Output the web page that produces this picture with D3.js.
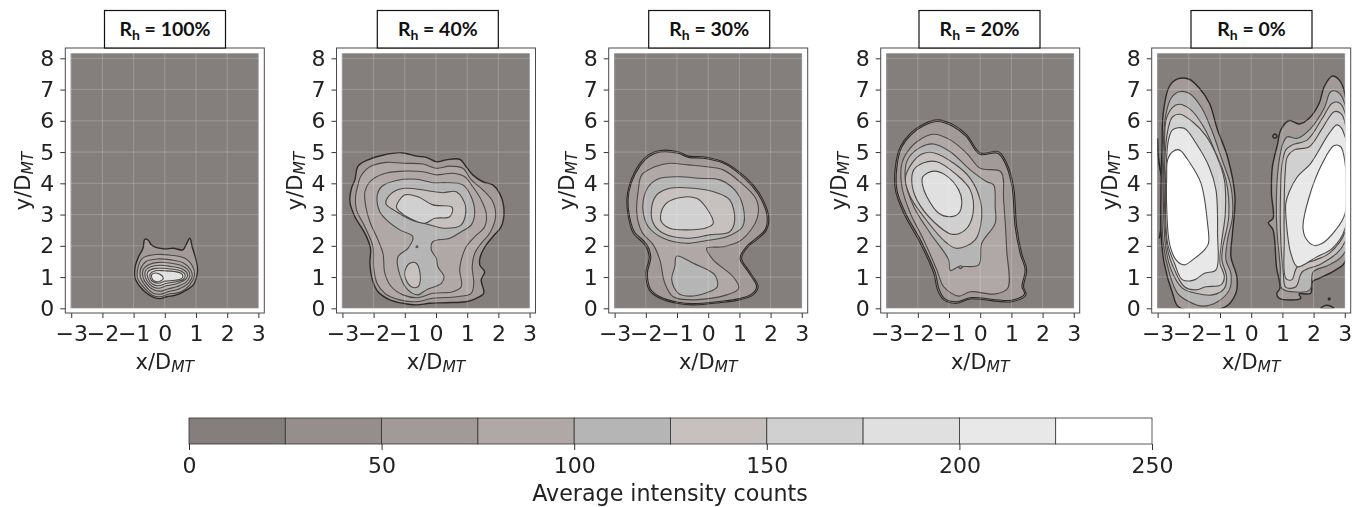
<!DOCTYPE html>
<html><head><meta charset="utf-8">
<script src="https://cdnjs.cloudflare.com/ajax/libs/d3/7.8.5/d3.min.js"></script>
<style>html,body{margin:0;padding:0;background:#fff}svg{display:block;filter:blur(0.35px)}</style>
</head><body><svg id="c" width="1357" height="507"></svg>
<script>
const humidity = ["100%","40%","30%","20%","0%"];
const xTicks = [-3,-2,-1,0,1,2,3];
const yTicks = [0,1,2,3,4,5,6,7,8];
const barTicks = [0,50,100,150,200,250];
const barEdges = [0,25,50,75,100,125,150,175,200,225,250];
const barColors = ["#847f7d","#958e8c","#a19a98","#afa8a6","#b5b5b5","#c6c0be","#d0d0d0","#e0e0e0","#e8e8e8","#ffffff"];

// each contour: [band index, closed outline in x/D, y/D units]
const rh100 = [
[2,[[-0.64,2.21],[-0.52,2.17],[-0.45,2.05],[-0.26,1.94],[0.01,1.90],[0.28,1.92],[0.58,1.87],[0.68,2.03],[0.80,2.24],[0.89,1.92],[0.99,1.60],[1.05,1.23],[1.02,1.01],[0.92,0.75],[0.70,0.59],[0.38,0.43],[0.06,0.37],[-0.15,0.31],[-0.36,0.35],[-0.58,0.48],[-0.79,0.69],[-0.95,0.96],[-0.95,1.33],[-0.84,1.65],[-0.70,1.92]]],
[3,[[-0.86,1.30],[-0.72,1.6],[-0.3,1.72],[0.2,1.7],[0.65,1.6],[0.9,1.32],[0.95,1.05],[0.8,0.75],[0.5,0.52],[0.1,0.45],[-0.15,0.37],[-0.4,0.42],[-0.68,0.68],[-0.87,0.95]]],
[3,[[-0.78,1.25],[-0.6,1.5],[-0.25,1.58],[0.2,1.55],[0.6,1.45],[0.82,1.25],[0.88,1.02],[0.75,0.8],[0.45,0.62],[0.1,0.53],[-0.15,0.45],[-0.4,0.5],[-0.62,0.72],[-0.78,0.98]]],
[4,[[-0.7,1.22],[-0.5,1.4],[-0.2,1.47],[0.2,1.44],[0.55,1.36],[0.76,1.2],[0.8,1.02],[0.68,0.84],[0.4,0.7],[0.1,0.62],[-0.15,0.55],[-0.38,0.6],[-0.58,0.78],[-0.7,1.0]]],
[5,[[-0.62,1.2],[-0.45,1.33],[-0.15,1.38],[0.2,1.34],[0.5,1.28],[0.7,1.15],[0.72,1.0],[0.6,0.88],[0.35,0.78],[0.05,0.72],[-0.2,0.64],[-0.4,0.7],[-0.55,0.85],[-0.63,1.02]]],
[6,[[-0.55,1.15],[-0.35,1.27],[-0.1,1.28],[0.25,1.25],[0.5,1.2],[0.65,1.08],[0.6,0.93],[0.35,0.85],[0.05,0.8],[-0.2,0.72],[-0.4,0.78],[-0.52,0.92]]],
[7,[[-0.47,1.1],[-0.3,1.2],[0.0,1.2],[0.3,1.18],[0.52,1.12],[0.58,1.02],[0.5,0.93],[0.25,0.89],[0.0,0.87],[-0.2,0.8],[-0.38,0.85],[-0.47,0.97]]],
[8,[[-0.42,1.08],[-0.28,1.13],[-0.1,1.05],[-0.05,0.95],[-0.2,0.85],[-0.35,0.88],[-0.42,0.98]]]
];
const rh40 = [
[2,[[-2.50,4.55],[-2.18,4.75],[-1.75,4.89],[-1.11,4.98],[-0.63,4.87],[-0.31,4.83],[0.01,4.69],[0.33,4.75],[0.76,4.77],[0.97,4.53],[1.18,4.27],[1.50,4.05],[1.82,3.95],[2.04,3.68],[2.18,3.15],[2.09,2.61],[1.82,2.29],[1.61,2.03],[1.42,1.65],[1.40,1.39],[1.56,1.17],[1.45,0.91],[1.53,0.48],[1.29,0.32],[0.97,0.21],[0.33,0.18],[-0.20,0.16],[-0.63,0.11],[-1.06,0.16],[-1.48,0.27],[-1.86,0.53],[-2.04,0.91],[-2.12,1.44],[-2.10,1.92],[-2.28,2.40],[-2.60,2.93],[-2.76,3.41],[-2.71,3.84],[-2.60,4.11]]],
[3,[[-2.42,4.21],[-2.12,4.53],[-1.59,4.67],[-1.06,4.64],[-0.42,4.62],[0.01,4.48],[0.44,4.55],[0.86,4.48],[1.13,4.11],[1.50,3.79],[1.82,3.41],[1.91,2.93],[1.72,2.40],[1.45,2.08],[1.24,1.76],[1.16,1.33],[1.21,0.80],[1.13,0.48],[0.65,0.37],[-0.10,0.32],[-0.63,0.21],[-1.16,0.27],[-1.64,0.48],[-1.89,0.80],[-2.00,1.33],[-2.02,1.97],[-2.28,2.61],[-2.55,3.15],[-2.58,3.57],[-2.50,3.95]]],
[3,[[-2.28,3.73],[-2.12,4.05],[-1.70,4.30],[-1.06,4.39],[-0.42,4.37],[0.01,4.27],[0.54,4.32],[0.92,4.21],[1.18,3.89],[1.45,3.47],[1.61,3.04],[1.56,2.61],[1.24,2.29],[0.97,1.97],[0.81,1.55],[0.76,1.23],[0.81,0.69],[0.54,0.53],[-0.10,0.48],[-0.58,0.34],[-1.06,0.43],[-1.43,0.69],[-1.64,1.12],[-1.70,1.76],[-1.86,2.19],[-2.12,2.77],[-2.25,3.25]]],
[4,[[-1.89,3.57],[-1.75,3.89],[-1.27,4.09],[-0.63,4.13],[-0.10,4.02],[0.33,4.02],[0.86,3.95],[1.13,3.57],[1.24,3.04],[1.13,2.67],[0.81,2.45],[0.44,2.24],[-0.10,2.13],[-0.15,1.87],[0.01,1.60],[0.06,1.33],[0.26,1.01],[0.17,0.80],[-0.31,0.59],[-0.58,0.43],[-0.90,0.59],[-1.16,1.07],[-1.22,1.65],[-0.90,1.92],[-0.74,2.29],[-1.16,2.51],[-1.59,2.83],[-1.80,3.09]]],
[5,[[-1.61,3.36],[-1.43,3.68],[-1.00,3.84],[-0.31,3.77],[0.22,3.70],[0.65,3.73],[0.95,3.25],[0.81,2.67],[0.33,2.56],[-0.31,2.70],[-0.79,2.83],[-1.27,3.09]]],
[5,[[-1.00,1.17],[-0.84,1.44],[-0.63,1.44],[-0.50,1.01],[-0.58,0.69],[-0.79,0.69],[-0.98,0.96]]],
[6,[[-1.27,3.25],[-1.00,3.63],[-0.58,3.57],[-0.10,3.31],[0.52,3.23],[0.44,2.93],[-0.04,2.88],[-0.36,2.72],[-0.84,2.88],[-1.16,3.09]]],
[3,[[-0.64,1.97],[-0.61,2.0],[-0.58,1.97],[-0.61,1.94]]]
];
const rh30 = [
[1,[[-2.19,4.64],[-1.92,4.91],[-1.55,5.05],[-0.96,5.01],[-0.64,4.87],[-0.16,4.85],[0.48,4.69],[0.91,4.43],[1.44,3.95],[1.76,3.47],[1.94,2.93],[1.87,2.51],[1.55,2.19],[1.28,1.97],[1.07,1.60],[1.33,1.17],[1.60,0.69],[1.44,0.43],[1.01,0.27],[0.37,0.18],[-0.48,0.11],[-1.01,0.16],[-1.55,0.32],[-1.89,0.59],[-2.00,1.12],[-1.89,1.65],[-2.03,2.03],[-2.40,2.40],[-2.56,2.93],[-2.61,3.47],[-2.51,4.00]]],
[2,[[-2.16,4.60],[-1.90,4.86],[-1.54,5.00],[-0.96,4.96],[-0.63,4.83],[-0.16,4.80],[0.47,4.65],[0.89,4.39],[1.41,3.91],[1.72,3.45],[1.89,2.93],[1.83,2.53],[1.52,2.23],[1.24,1.99],[1.02,1.60],[1.28,1.17],[1.55,0.70],[1.40,0.46],[1.00,0.31],[0.37,0.22],[-0.48,0.15],[-1.00,0.20],[-1.53,0.36],[-1.85,0.62],[-1.95,1.12],[-1.84,1.65],[-1.99,2.07],[-2.36,2.44],[-2.52,2.93],[-2.57,3.47],[-2.47,4.00]]],
[3,[[-2.24,3.79],[-2.13,4.27],[-1.71,4.53],[-1.23,4.64],[-0.64,4.59],[-0.05,4.53],[0.48,4.43],[1.01,4.05],[1.55,3.47],[1.57,2.88],[1.07,2.19],[0.48,1.97],[-0.05,1.92],[0.16,1.55],[0.80,1.01],[0.98,0.64],[0.59,0.43],[-0.48,0.27],[-1.12,0.37],[-1.39,0.80],[-1.55,1.55],[-1.76,2.03],[-2.13,2.45],[-2.29,3.04]]],
[4,[[-2.08,3.47],[-1.92,3.89],[-1.55,4.16],[-0.91,4.21],[-0.27,4.16],[0.37,4.11],[0.85,3.79],[1.12,3.25],[1.10,2.61],[0.59,2.29],[-0.05,2.17],[-0.69,2.08],[-1.44,2.24],[-1.92,2.61],[-2.08,3.04]]],
[4,[[-1.01,1.67],[-0.48,1.44],[0.21,1.07],[0.29,0.69],[-0.05,0.50],[-0.59,0.39],[-0.96,0.48],[-1.17,0.91],[-1.07,1.33]]],
[5,[[-1.81,3.25],[-1.65,3.63],[-1.23,3.84],[-0.48,3.84],[0.27,3.70],[0.69,3.47],[0.85,2.83],[0.69,2.45],[0.05,2.35],[-0.69,2.24],[-1.44,2.40],[-1.76,2.72]]],
[6,[[-1.53,2.93],[-1.39,3.31],[-1.01,3.52],[-0.37,3.52],[-0.05,3.20],[0.16,2.72],[-0.05,2.58],[-0.69,2.51],[-1.23,2.56],[-1.50,2.77]]]
];
const rh20 = [
[1,[[-2.56,5.17],[-2.24,5.60],[-1.81,5.90],[-1.37,6.03],[-0.85,5.87],[-0.43,5.55],[0.00,4.98],[0.59,5.01],[0.85,4.64],[1.07,3.89],[1.17,2.61],[1.33,1.76],[1.49,1.23],[1.39,0.69],[1.47,0.43],[1.01,0.21],[-0.32,0.30],[-0.75,0.16],[-1.17,0.27],[-1.37,0.59],[-1.49,1.12],[-1.92,2.08],[-2.45,3.04],[-2.72,3.79],[-2.72,4.53]]],
[2,[[-2.52,5.15],[-2.21,5.56],[-1.80,5.85],[-1.37,5.98],[-0.87,5.82],[-0.45,5.50],[-0.02,4.93],[0.56,4.96],[0.81,4.62],[1.02,3.89],[1.12,2.61],[1.28,1.76],[1.44,1.23],[1.34,0.69],[1.42,0.46],[1.00,0.26],[-0.32,0.34],[-0.75,0.21],[-1.14,0.31],[-1.32,0.62],[-1.44,1.14],[-1.87,2.10],[-2.40,3.06],[-2.67,3.79],[-2.67,4.53]]],
[3,[[-2.43,4.85],[-2.03,5.33],[-1.49,5.57],[-0.96,5.39],[-0.43,4.96],[0.00,4.48],[0.66,4.37],[0.75,3.47],[0.85,1.87],[0.88,0.64],[0.48,0.46],[-0.32,0.53],[-0.69,0.39],[-1.17,0.69],[-1.39,1.23],[-1.81,2.19],[-2.24,3.04],[-2.51,3.89],[-2.53,4.53]]],
[4,[[-2.33,4.75],[-1.92,5.15],[-1.49,5.26],[-0.96,5.01],[-0.32,4.43],[0.21,4.05],[0.43,3.95],[0.48,3.25],[0.48,2.72],[0.05,2.08],[-0.05,1.39],[-0.69,1.33],[-0.96,1.21],[-1.01,1.55],[-1.60,2.40],[-2.13,3.25],[-2.40,4.11]]],
[5,[[-2.19,4.64],[-1.87,4.94],[-1.49,4.98],[-0.85,4.64],[-0.32,4.16],[0.00,3.47],[0.05,2.93],[-0.16,2.19],[-0.75,1.92],[-1.12,2.13],[-1.81,2.93],[-2.24,3.57],[-2.40,4.16]]],
[6,[[-2.13,4.43],[-1.81,4.66],[-1.39,4.69],[-0.75,4.27],[-0.32,3.79],[-0.23,3.04],[-0.48,2.51],[-0.91,2.37],[-1.49,2.77],[-2.03,3.47],[-2.19,4.00]]],
[7,[[-1.84,4.21],[-1.49,4.39],[-1.12,4.27],[-0.69,3.79],[-0.59,3.41],[-0.69,3.04],[-1.01,2.93],[-1.33,3.04],[-1.71,3.57],[-1.85,3.95]]],
[2,[[-0.69,1.32],[-0.63,1.36],[-0.57,1.32],[-0.63,1.27]]]
];
const rh0 = [
[0,[[-3.0,5.43],[-2.96,4.65],[-2.84,4.07],[-2.92,4.5],[-2.99,4.95]]],
[0,[[-2.85,2.72],[-2.95,2.24],[-2.87,2.5]]],
[2,[[-2.82,6.24],[-2.63,7.09],[-2.36,7.34],[-1.99,7.33],[-1.66,7.04],[-1.34,6.56],[-1.08,5.71],[-0.76,4.85],[-0.52,3.57],[-0.60,2.40],[-0.65,1.65],[-0.46,1.01],[-0.49,0.48],[-0.86,0.03],[-2.31,0.03],[-2.52,0.48],[-2.79,1.44],[-2.89,2.40],[-2.89,3.89],[-2.86,5.17]]],
[4,[[-2.75,6.13],[-2.57,6.72],[-2.31,6.93],[-1.99,6.88],[-1.61,6.45],[-1.29,5.76],[-0.97,4.85],[-0.65,3.89],[-0.60,2.93],[-0.76,2.19],[-0.81,1.55],[-0.65,1.12],[-0.70,0.59],[-1.08,0.21],[-1.56,0.07],[-1.99,0.21],[-2.36,0.48],[-2.62,1.12],[-2.82,2.08],[-2.86,3.89],[-2.82,5.17]]],
[5,[[-2.73,6.03],[-2.52,6.43],[-2.31,6.53],[-1.93,6.35],[-1.50,5.76],[-1.18,5.07],[-0.81,4.11],[-0.72,2.93],[-0.91,1.97],[-0.94,1.55],[-0.79,1.01],[-0.86,0.64],[-1.24,0.43],[-1.77,0.48],[-2.20,0.64],[-2.52,1.12],[-2.73,1.87],[-2.82,3.89],[-2.78,5.17]]],
[6,[[-2.66,5.76],[-2.52,6.13],[-2.28,6.21],[-1.88,5.97],[-1.45,5.52],[-1.13,4.93],[-0.86,4.11],[-0.83,3.04],[-0.97,1.97],[-1.00,1.44],[-0.86,1.01],[-0.97,0.75],[-1.45,0.69],[-1.77,0.59],[-2.14,0.69],[-2.46,1.23],[-2.68,1.87],[-2.79,3.89],[-2.75,5.07]]],
[8,[[-2.65,5.39],[-2.52,5.71],[-2.15,5.76],[-1.77,5.28],[-1.35,4.53],[-1.13,3.79],[-1.08,2.40],[-1.13,1.23],[-1.50,1.12],[-1.82,0.91],[-2.20,0.91],[-2.46,1.44],[-2.68,2.08],[-2.75,3.89],[-2.71,4.85]]],
[9,[[-2.68,4.75],[-2.52,5.01],[-2.31,5.07],[-1.99,4.69],[-1.61,4.00],[-1.40,2.72],[-1.37,2.08],[-1.50,1.87],[-1.88,1.55],[-2.15,1.39],[-2.41,1.55],[-2.62,2.08],[-2.71,3.25],[-2.71,4.21]]],
[2,[[0.84,5.23],[0.95,5.71],[1.22,6.01],[1.54,5.90],[1.86,6.08],[2.18,6.56],[2.34,7.09],[2.60,7.43],[2.82,7.31],[3.01,6.83],[3.01,1.49],[2.71,1.23],[2.18,0.96],[1.96,0.85],[1.91,0.48],[1.54,0.46],[1.59,0.32],[0.90,0.32],[0.82,0.48],[0.92,0.64],[0.81,1.33],[0.70,2.51],[0.55,2.74],[0.70,2.88],[0.65,3.68],[0.68,4.53]]],
[4,[[1.02,5.28],[1.16,5.49],[1.48,5.44],[1.91,5.76],[2.34,6.40],[2.55,6.93],[2.76,6.93],[3.01,6.51],[3.01,1.81],[2.50,1.39],[1.99,1.17],[1.88,0.59],[1.32,0.53],[0.98,0.64],[0.93,1.33],[0.82,2.61],[0.82,3.89],[0.90,4.75]]],
[5,[[1.11,5.07],[1.32,5.23],[1.80,5.39],[2.28,6.08],[2.60,6.56],[2.82,6.58],[3.01,6.24],[3.01,2.13],[2.28,1.44],[1.64,1.17],[1.43,0.69],[1.11,0.67],[1.03,1.12],[0.94,2.40],[0.94,3.68],[0.98,4.53]]],
[6,[[1.16,4.85],[1.38,5.07],[1.86,5.17],[2.28,5.76],[2.66,6.29],[2.87,6.24],[3.01,5.92],[3.01,2.45],[2.50,1.76],[2.07,1.55],[1.48,1.33],[1.30,0.91],[1.11,0.96],[1.06,2.19],[1.06,3.47],[1.09,4.32]]],
[8,[[1.22,3.73],[1.48,4.21],[1.91,4.64],[2.50,5.60],[2.76,5.87],[3.01,5.49],[3.01,2.56],[2.60,1.92],[2.07,1.63],[1.48,1.33],[1.27,1.76],[1.14,2.61],[1.11,3.36]]],
[9,[[1.66,2.61],[1.86,3.57],[2.28,4.64],[2.66,5.21],[2.87,5.17],[3.01,4.64],[3.01,3.04],[2.71,2.51],[2.28,2.08],[2.02,2.01],[1.75,2.24]]],
[0,[[0.69,5.51],[0.76,5.58],[0.83,5.51],[0.76,5.44]]],
[1,[[2.23,0.0],[2.42,0.1],[2.65,0.0]]],
[1,[[2.47,0.30],[2.5,0.33],[2.53,0.30],[2.5,0.27]]]
];
const panelContours = [rh100,rh40,rh30,rh20,rh0];

const frameLefts = [65.3,336.5,608.7,880.7,1151.7];
const titleLefts = [104.5,377.3,648.7,919,1191];
const FW=199, FTOP=48, FBOT=313, TW=121;
const svg=d3.select("#c");
const TXT="#222", FONT='"DejaVu Sans", Verdana, sans-serif';

const defs=svg.append("defs");
panelContours.forEach((contours,i)=>{
  const left=frameLefts[i];
  const x=d3.scaleLinear().domain([-3.19,3.19]).range([left,left+FW]);
  const y=d3.scaleLinear().domain([-0.15,8.33]).range([FBOT,FTOP]);
  const g=svg.append("g");
  const fx0=x(-3.02), fx1=x(3.01), fy0=y(8.16), fy1=y(0);
  defs.append("clipPath").attr("id","clip"+i).append("rect").attr("x",fx0).attr("y",fy0).attr("width",fx1-fx0).attr("height",fy1-fy0);
  g.append("rect").attr("x",left).attr("y",FTOP).attr("width",FW).attr("height",FBOT-FTOP).attr("fill","#fff");
  g.append("rect").attr("x",fx0).attr("y",fy0).attr("width",fx1-fx0).attr("height",fy1-fy0).attr("fill",barColors[0]);
  const line=d3.line().x(d=>x(d[0])).y(d=>y(d[1])).curve(d3.curveCatmullRomClosed.alpha(0.5));
  const cg=g.append("g").attr("clip-path",`url(#clip${i})`);
  contours.forEach((c,j)=>{
    const dbl=(i==2||i==3)&&j<2;
    const outer=(i<2&&j==0)||(i==4&&c[0]<=2);
    cg.append("path").attr("d",line(c[1])).attr("fill",barColors[c[0]])
      .attr("stroke",outer||dbl?"#2c2a29":"#4c4846").attr("stroke-width",outer?1.4:(dbl?1.1:1.1));
  });
  // grid
  g.append("g").attr("stroke","#fff").attr("stroke-opacity",0.2).attr("stroke-width",1)
    .selectAll("line.v").data(xTicks).join("line").attr("x1",d=>x(d)).attr("x2",d=>x(d)).attr("y1",FTOP).attr("y2",FBOT);
  g.append("g").attr("stroke","#fff").attr("stroke-opacity",0.2).attr("stroke-width",1)
    .selectAll("line.h").data(yTicks).join("line").attr("y1",d=>y(d)).attr("y2",d=>y(d)).attr("x1",left).attr("x2",left+FW);
  const fmt=d=>String(d).replace("-","\u2212");
  const ax=g.append("g").attr("transform",`translate(0,${FBOT})`).call(d3.axisBottom(x).tickValues(xTicks).tickFormat(fmt).tickSize(5).tickPadding(7));
  const ay=g.append("g").attr("transform",`translate(${left},0)`).call(d3.axisLeft(y).tickValues(yTicks).tickFormat(fmt).tickSize(5).tickPadding(6));
  [ax,ay].forEach(a=>{
    a.select(".domain").remove();
    a.selectAll("line").attr("stroke","#333");
    a.attr("font-family",null);
    a.selectAll("text").attr("fill",TXT).attr("font-family",FONT).attr("font-size",22);
  });
  g.append("rect").attr("x",left).attr("y",FTOP).attr("width",FW).attr("height",FBOT-FTOP).attr("fill","none").attr("stroke","#4a4a4a").attr("stroke-width",1);
  // axis labels
  const xl=g.append("text").attr("x",left+FW/2).attr("y",369).attr("text-anchor","middle").attr("fill",TXT).attr("font-family",FONT).attr("font-size",21);
  xl.append("tspan").text("x/D");
  xl.append("tspan").text("MT").attr("dy",3).attr("font-style","italic").attr("font-size",15.5);
  const yl=g.append("text").attr("transform",`translate(${left-35},181) rotate(-90)`).attr("text-anchor","middle").attr("fill",TXT).attr("font-family",FONT).attr("font-size",21);
  yl.append("tspan").text("y/D");
  yl.append("tspan").text("MT").attr("dy",3).attr("font-style","italic").attr("font-size",15.5);
  // title box
  const tl=titleLefts[i];
  g.append("rect").attr("x",tl).attr("y",10.5).attr("width",TW).attr("height",37.5).attr("fill","#fff").attr("stroke","#111").attr("stroke-width",1.2);
  const t=g.append("text").attr("x",tl+TW/2).attr("y",36).attr("text-anchor","middle").attr("fill","#111").attr("font-family","Lato").attr("font-weight",700).attr("font-size",19.5);
  t.append("tspan").text("R");
  t.append("tspan").text("h").attr("dy",4).attr("font-size",14);
  t.append("tspan").text(" = "+humidity[i]).attr("dy",-4);
});

// colour bar
const bx=d3.scaleLinear().domain([0,250]).range([189,1152]);
const bar=svg.append("g");
const BT=418,BB=444;
bar.selectAll("rect").data(barColors).join("rect")
  .attr("x",(d,i)=>bx(barEdges[i])).attr("width",(d,i)=>bx(barEdges[i+1])-bx(barEdges[i]))
  .attr("y",BT).attr("height",BB-BT).attr("fill",d=>d).attr("stroke","#333").attr("stroke-width",0.8);
const bax=bar.append("g").attr("transform",`translate(0,${BB})`).call(d3.axisBottom(bx).tickValues(barTicks).tickSize(6).tickPadding(7).tickFormat(d3.format("d")));
bax.select(".domain").remove();
bax.selectAll("line").attr("stroke","#333");
bax.selectAll("text").attr("fill",TXT).attr("font-family",FONT).attr("font-size",22);
bar.append("text").attr("x",670).attr("y",501).attr("text-anchor","middle").attr("fill",TXT).attr("font-family",FONT).attr("font-size",22.2).text("Average intensity counts");
</script></body></html>
